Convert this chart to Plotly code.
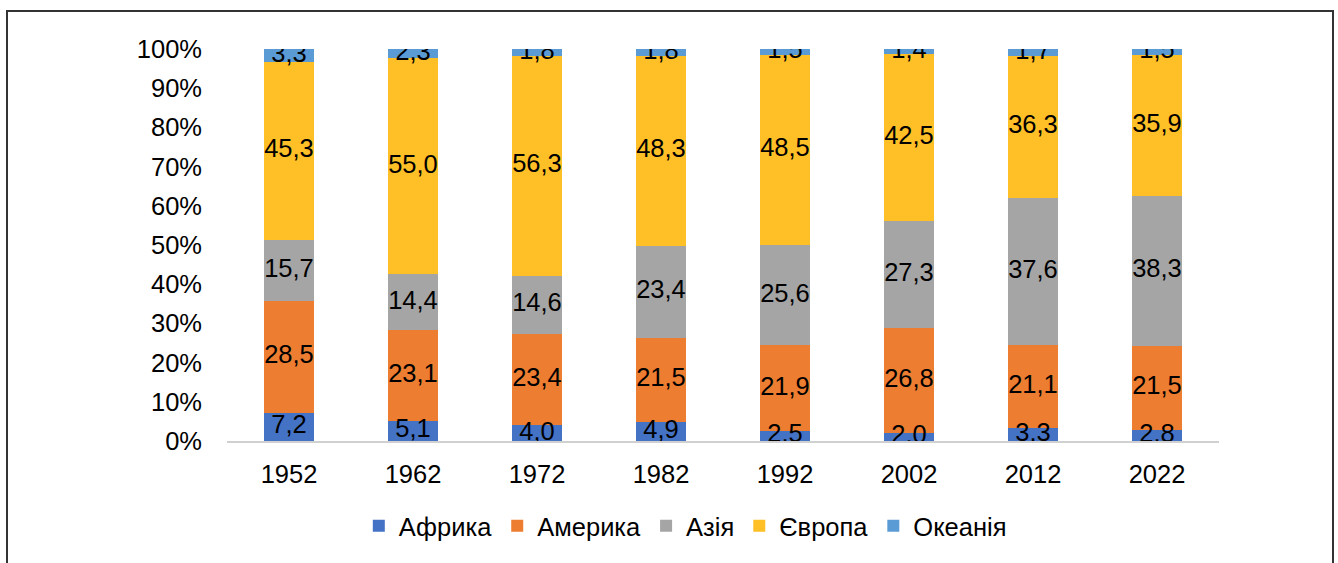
import plotly.graph_objects as go

years = ['1952', '1962', '1972', '1982', '1992', '2002', '2012', '2022']
africa = [7.2, 5.1, 4.0, 4.9, 2.5, 2.0, 3.3, 2.8]
america = [28.5, 23.1, 23.4, 21.5, 21.9, 26.8, 21.1, 21.5]
asia = [15.7, 14.4, 14.6, 23.4, 25.6, 27.3, 37.6, 38.3]
europe = [45.3, 55.0, 56.3, 48.3, 48.5, 42.5, 36.3, 35.9]
oceania = [3.3, 2.3, 1.8, 1.8, 1.5, 1.4, 1.7, 1.5]
pct_ticks = [0, 10, 20, 30, 40, 50, 60, 70, 80, 90, 100]

series = [
    ('Африка', africa, '#4472C4'),
    ('Америка', america, '#ED7D31'),
    ('Азія', asia, '#A5A5A5'),
    ('Європа', europe, '#FFBF27'),
    ('Океанія', oceania, '#5B9BD5'),
]

FONT = 'Liberation Sans, Arial, sans-serif'
FS = 25.5

fig = go.Figure()

# bars
for name, vals, color in series:
    fig.add_trace(go.Bar(
        x=years, y=vals, name=name,
        marker=dict(color=color, line=dict(width=0)),
        width=0.4,
        hoverinfo='skip',
    ))

# value labels at the middle of each segment
base = [0.0] * len(years)
for name, vals, color in series:
    mids = [b + v / 2 for b, v in zip(base, vals)]
    fig.add_trace(go.Scatter(
        x=years, y=mids, mode='text',
        text=[('%.1f' % v).replace('.', ',') for v in vals],
        textfont=dict(family=FONT, size=FS, color='#000000'),
        showlegend=False, hoverinfo='skip',
    ))
    base = [b + v for b, v in zip(base, vals)]

layout = dict(
    barmode='stack',
    width=1338, height=563,
    margin=dict(l=227, r=119, t=49, b=122),
    paper_bgcolor='white', plot_bgcolor='white',
    font=dict(family=FONT, size=FS, color='#000000'),
    xaxis=dict(
        type='category', showgrid=False, showline=True,
        linecolor='#D0D0D0', linewidth=2, ticks='',
        ticklabelstandoff=9,
        tickfont=dict(family=FONT, size=FS, color='#000000'),
    ),
    yaxis=dict(
        range=[0, 100], showgrid=False, zeroline=False, showline=False,
        tickmode='array', tickvals=pct_ticks,
        ticktext=['%d%%' % t for t in pct_ticks],
        ticklabelstandoff=24,
        tickfont=dict(family=FONT, size=FS, color='#000000'),
    ),
    legend=dict(
        orientation='h', x=0.462, xanchor='center', y=-0.217, yanchor='middle',
        font=dict(family=FONT, size=FS, color='#000000'), itemwidth=30,
        traceorder='normal',
    ),
    showlegend=True,
    shapes=[dict(
        type='rect', xref='paper', yref='paper',
        x0=(7 - 227) / 992, x1=(1333 - 227) / 992,
        y0=(441 - 600) / 392, y1=(441 - 11) / 392,
        line=dict(color='#333333', width=2), fillcolor='rgba(0,0,0,0)',
        layer='below',
    )],
)

fig = go.Figure(data=fig.data, layout=layout)
fig.write_html("out.html", config=dict(displayModeBar=False),
               post_script="document.body.style.margin='0';")
